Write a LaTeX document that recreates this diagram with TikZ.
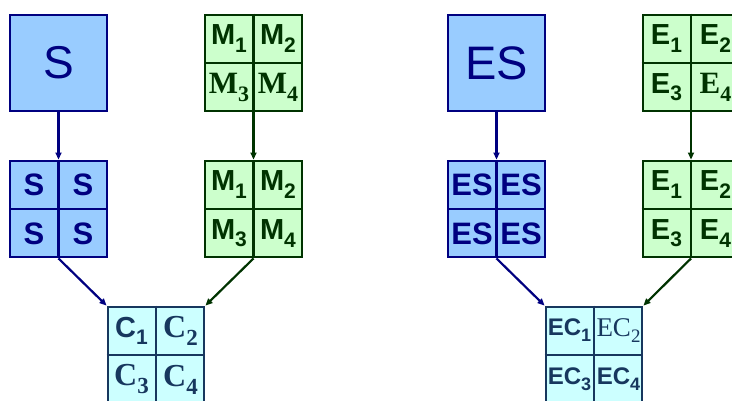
\documentclass[tikz,border=0pt]{standalone}
\usepackage{fontspec}
\setmainfont{Liberation Sans}
\newfontfamily\tmr{Liberation Serif}
\usetikzlibrary{arrows.meta}
\definecolor{bfill}{HTML}{99CCFF}
\definecolor{bline}{HTML}{000080}
\definecolor{gfill}{HTML}{CCFFCC}
\definecolor{gline}{HTML}{003300}
\definecolor{cfill}{HTML}{CCFFFF}
\definecolor{cline}{HTML}{17375E}
\newcommand\sbx[2][21]{\raisebox{-0.25em}{\fontsize{#1}{#1}\selectfont #2}}
\begin{document}
\begin{tikzpicture}[x=1pt,y=-1pt,
  box/.style={line width=2.4pt, minimum size=96.5pt, inner sep=0pt, draw},
  bbox/.style={box, draw=bline, fill=bfill, text=bline},
  gbox/.style={box, draw=gline, fill=gfill, text=gline},
  cbox/.style={box, draw=cline, fill=cfill, text=cline},
  big/.style={font=\fontsize{#1}{#1}\selectfont},
  cell/.style={inner sep=0pt, font=\fontsize{#1}{#1}\selectfont\bfseries},
  tcell/.style={inner sep=0pt, font=\fontsize{#1}{#1}\selectfont\tmr\bfseries},
  trcell/.style={inner sep=0pt, font=\fontsize{#1}{#1}\selectfont\tmr},
  div/.style={line width=2.4pt},
  tip/.style={-{Triangle[length=7pt,width=6pt]}},
  barr/.style={draw=bline, line width=2.2pt, tip},
  garr/.style={draw=gline, line width=2.2pt, tip}
]
\useasboundingbox (0,0) rectangle (732,400);

% ---------- left half ----------
\node[bbox, big=46] (S) at (58.5,63) {S};
\node[gbox] (M) at (253.5,63) {};
\draw[div, gline] (M.north) -- (M.south) (M.west) -- (M.east);
\node[cell=29, text=gline] (M1) at ([shift={(-24.5,-24.5)}]M.center) {M\sbx{1}};
\node[cell=29, text=gline] (M2) at ([shift={(24.5,-24.5)}]M.center) {M\sbx{2}};
\node[tcell=31, text=gline] (M3) at ([shift={(-24.5,24.5)}]M.center) {M\sbx[22]{3}};
\node[tcell=31, text=gline] (M4) at ([shift={(24.5,24.5)}]M.center) {M\sbx[22]{4}};

\node[bbox] (Sg) at (58.5,209) {};
\draw[div, bline] (Sg.north) -- (Sg.south) (Sg.west) -- (Sg.east);
\node[cell=31, text=bline] (Sg1) at ([shift={(-24.5,-24.5)}]Sg.center) {S};
\node[cell=31, text=bline] (Sg2) at ([shift={(24.5,-24.5)}]Sg.center) {S};
\node[cell=31, text=bline] (Sg3) at ([shift={(-24.5,24.5)}]Sg.center) {S};
\node[cell=31, text=bline] (Sg4) at ([shift={(24.5,24.5)}]Sg.center) {S};

\node[gbox] (Mg) at (253.5,209) {};
\draw[div, gline] (Mg.north) -- (Mg.south) (Mg.west) -- (Mg.east);
\node[cell=29, text=gline] (Mg1) at ([shift={(-24.5,-24.5)}]Mg.center) {M\sbx{1}};
\node[cell=29, text=gline] (Mg2) at ([shift={(24.5,-24.5)}]Mg.center) {M\sbx{2}};
\node[cell=29, text=gline] (Mg3) at ([shift={(-24.5,24.5)}]Mg.center) {M\sbx{3}};
\node[cell=29, text=gline] (Mg4) at ([shift={(24.5,24.5)}]Mg.center) {M\sbx{4}};

\node[cbox] (C) at (156,355) {};
\draw[div, cline] (C.north) -- (C.south) (C.west) -- (C.east);
\node[cell=29, text=cline] (C1) at ([shift={(-24.5,-24.5)}]C.center) {C\sbx{1}};
\node[tcell=32, text=cline] (C2) at ([shift={(24.5,-24.5)}]C.center) {C\sbx[23]{2}};
\node[tcell=32, text=cline] (C3) at ([shift={(-24.5,24.5)}]C.center) {C\sbx[23]{3}};
\node[tcell=32, text=cline] (C4) at ([shift={(24.5,24.5)}]C.center) {C\sbx[23]{4}};

\draw[barr] (S.south) -- (Sg.north);
\draw[garr] (M.south) -- (Mg.north);
\draw[barr] (Sg.south) -- (C.north west);
\draw[garr] (Mg.south) -- (C.north east);

% ---------- right half ----------
\node[bbox, big=47] (ES) at (496.5,63) {ES};
\node[gbox] (E) at (691,63) {};
\draw[div, gline] (E.north) -- (E.south) (E.west) -- (E.east);
\node[cell=29, text=gline] (E1) at ([shift={(-24.5,-24.5)}]E.center) {E\sbx{1}};
\node[cell=29, text=gline] (E2) at ([shift={(24.5,-24.5)}]E.center) {E\sbx{2}};
\node[cell=29, text=gline] (E3) at ([shift={(-24.5,24.5)}]E.center) {E\sbx{3}};
\node[tcell=31, text=gline] (E4) at ([shift={(24.5,24.5)}]E.center) {E\sbx[22]{4}};

\node[bbox] (ESg) at (496.5,209) {};
\draw[div, bline] (ESg.north) -- (ESg.south) (ESg.west) -- (ESg.east);
\node[cell=31, text=bline] (ESg1) at ([shift={(-24.5,-24.5)}]ESg.center) {ES};
\node[cell=31, text=bline] (ESg2) at ([shift={(24.5,-24.5)}]ESg.center) {ES};
\node[cell=31, text=bline] (ESg3) at ([shift={(-24.5,24.5)}]ESg.center) {ES};
\node[cell=31, text=bline] (ESg4) at ([shift={(24.5,24.5)}]ESg.center) {ES};

\node[gbox] (Eg) at (691,209) {};
\draw[div, gline] (Eg.north) -- (Eg.south) (Eg.west) -- (Eg.east);
\node[cell=29, text=gline] (Eg1) at ([shift={(-24.5,-24.5)}]Eg.center) {E\sbx{1}};
\node[cell=29, text=gline] (Eg2) at ([shift={(24.5,-24.5)}]Eg.center) {E\sbx{2}};
\node[cell=29, text=gline] (Eg3) at ([shift={(-24.5,24.5)}]Eg.center) {E\sbx{3}};
\node[cell=29, text=gline] (Eg4) at ([shift={(24.5,24.5)}]Eg.center) {E\sbx{4}};

\node[cbox] (EC) at (594,355) {};
\draw[div, cline] (EC.north) -- (EC.south) (EC.west) -- (EC.east);
\node[cell=24, text=cline] (EC1) at ([shift={(-24.5,-24.5)}]EC.center) {EC\sbx[18]{1}};
\node[trcell=27, text=cline] (EC2) at ([shift={(24.5,-24.5)}]EC.center) {EC\sbx[19]{2}};
\node[cell=24, text=cline] (EC3) at ([shift={(-24.5,24.5)}]EC.center) {EC\sbx[18]{3}};
\node[cell=24, text=cline] (EC4) at ([shift={(24.5,24.5)}]EC.center) {EC\sbx[18]{4}};

\draw[barr] (ES.south) -- (ESg.north);
\draw[garr] (E.south) -- (Eg.north);
\draw[barr] (ESg.south) -- (EC.north west);
\draw[garr] (Eg.south) -- (EC.north east);
\end{tikzpicture}
\end{document}
